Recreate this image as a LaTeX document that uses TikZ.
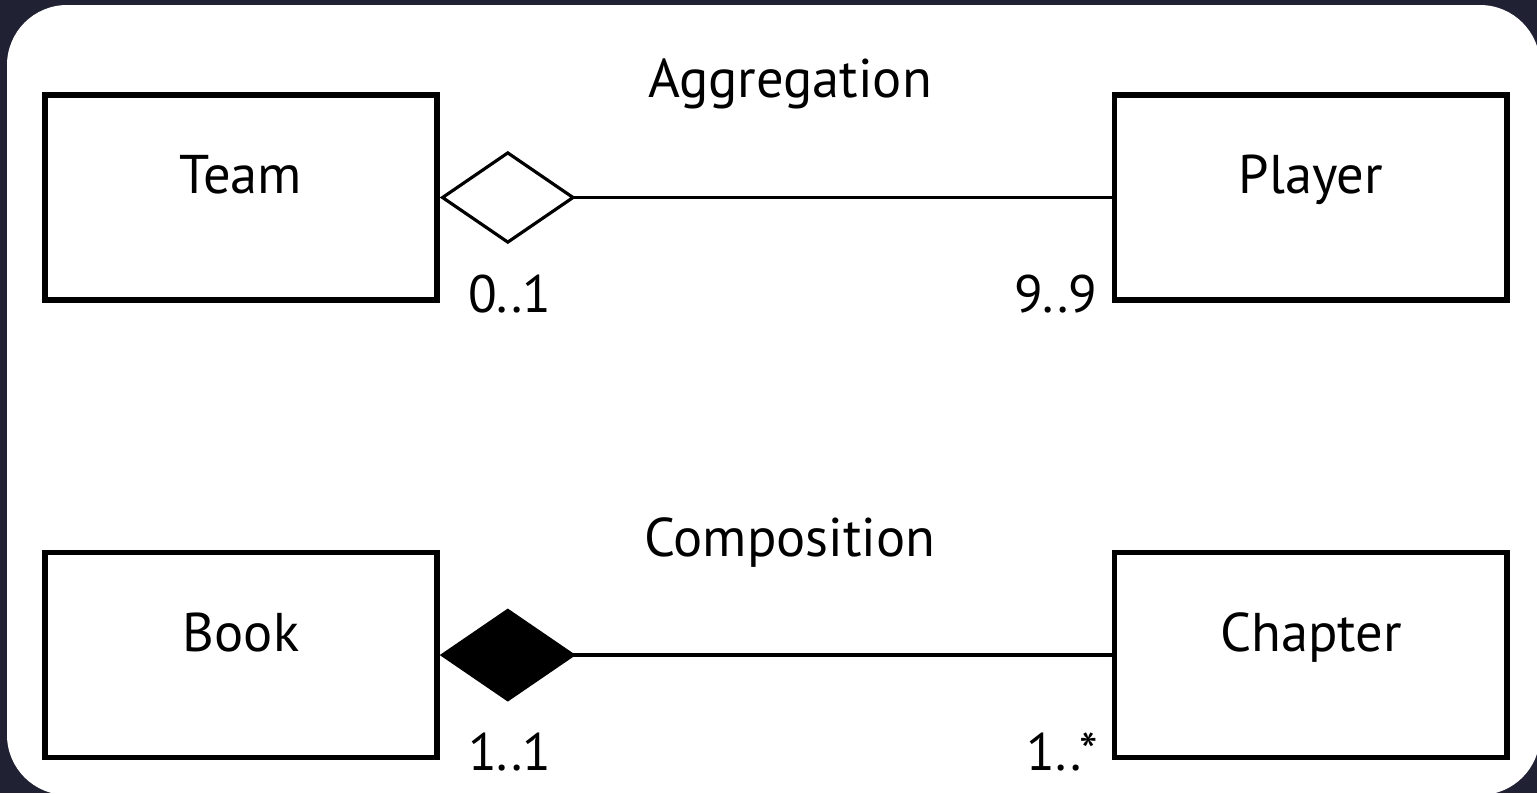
\documentclass[tikz,border=0pt]{standalone}
\usepackage{fontspec}
\setmainfont{PT Sans}
\usetikzlibrary{positioning,arrows.meta}
\definecolor{bgdark}{RGB}{32,34,52}
\begin{document}
\begin{tikzpicture}[x=0.01cm,y=-0.01cm,node distance=2.47cm and 6.72cm,
                    main node/.style={rectangle,draw,line width=1.5pt,minimum width=3.92cm,minimum height=2.05cm,
                                      text height=0.42cm,text depth=0.5cm,font=\fontsize{15.5}{18}\selectfont},
                    mult/.style={font=\fontsize{15}{18}\selectfont},
                    title/.style={font=\fontsize{15.5}{18}\selectfont}]
  \useasboundingbox (0,0) rectangle (1537,793);
  \fill[bgdark] (0,0) rectangle (1537,793);
  \fill[white,rounded corners=0.6cm] (7,5) rectangle (1540,795);

  \node[main node] (1) at (241,197.5) {Team};
  \node[main node] (2) [right=of 1] {Player};
  \node[main node] (3) [below=of 1] {Book};
  \node[main node] (4) [below=of 2] {Chapter};

  \path[line width=0.9pt]
    (1) edge [{Diamond[open,length=1.36cm,width=0.93cm]}-] (2)
    (3) edge [{Diamond[length=1.36cm,width=0.93cm]}-] (4);

  \node[mult,anchor=base west] (5) at ([xshift=0.16cm,yshift=-0.1cm]1.south east) {0..1};
  \node[mult,anchor=base east] (6) at ([xshift=-0.02cm,yshift=-0.1cm]2.south west) {9..9};
  \node[mult,anchor=base west] (7) at ([xshift=0.16cm,yshift=-0.1cm]3.south east) {1..1};
  \node[mult,anchor=base east] (8) at ([xshift=-0.02cm,yshift=-0.1cm]4.south west) {1..*};

  \node[title,anchor=base] (9) at (790,97) {Aggregation};
  \node[title,anchor=base] (10) at (790,556) {Composition};
\end{tikzpicture}
\end{document}
